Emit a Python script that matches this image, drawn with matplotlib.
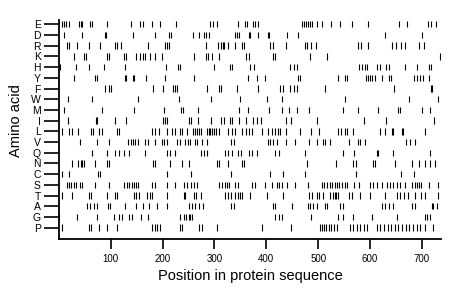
import matplotlib
matplotlib.use('Agg')
import matplotlib.pyplot as plt

plt.rcParams['font.family'] = ['Liberation Sans', 'DejaVu Sans']

# amino acids, top row first
acids = ['E', 'D', 'R', 'K', 'H', 'Y', 'F', 'W', 'M', 'I',
         'L', 'V', 'Q', 'N', 'C', 'S', 'T', 'A', 'G', 'P']

# positions of each residue in the sequence
pos_E = [6, 9, 13, 19, 38, 42, 45, 60, 64, 92, 138, 157, 162, 180, 194, 225, 292, 298, 305,
         346, 358, 363, 375, 379, 383, 469, 473, 477, 481, 485, 489, 498, 508, 525, 543, 566,
         597, 656, 672, 712, 718, 728]
pos_D = [9, 44, 88, 91, 142, 186, 212, 216, 258, 271, 279, 284, 289, 340, 343, 347, 366, 369,
         384, 403, 406, 440, 462, 628, 701]
pos_R = [16, 20, 35, 58, 80, 108, 112, 119, 172, 205, 209, 212, 284, 306, 313, 316, 319, 327,
         339, 353, 356, 408, 412, 437, 475, 479, 487, 496, 577, 583, 596, 643, 651, 659, 668,
         694, 705]
pos_K = [29, 48, 52, 93, 97, 125, 130, 148, 157, 162, 166, 176, 186, 198, 260, 283, 288, 295,
         308, 360, 366, 412, 417, 485, 517, 735]
pos_H = [1, 33, 58, 87, 128, 207, 230, 234, 300, 329, 334, 369, 376, 446, 453, 459, 579, 584,
         590, 594, 613, 620, 631, 636, 667, 690, 713, 717]
pos_Y = [29, 69, 74, 127, 130, 142, 145, 168, 205, 260, 365, 382, 398, 462, 465, 538, 552, 555,
         592, 596, 600, 604, 609, 623, 637, 641, 684, 690, 697, 703, 713]
pos_F = [88, 96, 101, 181, 200, 220, 223, 228, 286, 308, 313, 344, 384, 427, 433, 446, 453, 459,
         514, 647, 718, 720]
pos_W = [18, 64, 153, 232, 294, 350, 401, 430, 552, 675, 732]
pos_M = [10, 83, 144, 202, 236, 239, 268, 347, 365, 405, 430, 444, 459, 483, 547, 577, 616, 654,
         658, 700, 716]
pos_I = [18, 71, 74, 109, 130, 200, 204, 209, 250, 254, 268, 294, 313, 318, 329, 334, 347, 360,
         374, 382, 390, 437, 448, 498, 589, 631, 724]
pos_L = [5, 19, 26, 37, 61, 65, 77, 82, 112, 115, 180, 185, 192, 209, 218, 223, 234, 237, 247,
         258, 263, 266, 270, 273, 286, 289, 292, 295, 299, 303, 308, 327, 334, 340, 353, 360, 366,
         372, 392, 404, 411, 416, 422, 427, 437, 465, 487, 501, 539, 544, 551, 555, 568, 620, 629,
         642, 645, 661, 663, 706]
pos_V = [40, 74, 96, 133, 138, 142, 147, 153, 166, 172, 185, 198, 202, 209, 228, 234, 244, 249,
         252, 263, 266, 276, 286, 331, 337, 404, 408, 412, 421, 437, 456, 482, 498, 509, 514, 523,
         559, 577, 581, 590, 669, 677, 686]
pos_Q = [63, 93, 108, 115, 125, 135, 166, 209, 215, 223, 273, 279, 286, 320, 326, 333, 345, 352,
         366, 372, 382, 417, 424, 475, 547, 570, 613, 616, 645, 716]
pos_N = [26, 37, 42, 45, 48, 69, 93, 97, 181, 185, 215, 237, 250, 305, 309, 327, 353, 356, 478,
         534, 568, 573, 605, 610, 648, 681, 694, 706, 716, 726]
pos_C = [5, 20, 76, 80, 209, 254, 331, 408, 433, 474, 573, 660, 684]
pos_S = [16, 20, 24, 29, 32, 40, 44, 69, 96, 125, 131, 136, 140, 144, 148, 153, 180, 185, 209,
         223, 241, 247, 254, 260, 266, 308, 314, 320, 324, 328, 340, 346, 372, 378, 398, 410, 421,
         425, 430, 440, 455, 480, 507, 512, 517, 522, 527, 532, 536, 541, 546, 551, 555, 570, 578,
         600, 605, 613, 623, 633, 639, 645, 652, 658, 667, 681, 686, 690, 695, 699, 713, 731]
pos_T = [5, 26, 58, 61, 93, 109, 112, 144, 149, 154, 170, 175, 180, 209, 241, 244, 260, 264, 273,
         321, 326, 331, 340, 345, 350, 353, 369, 401, 433, 482, 488, 498, 502, 510, 523, 528, 532,
         534, 538, 559, 565, 581, 600, 629, 652, 658, 665, 674, 687, 699, 706, 732]
pos_A = [54, 60, 67, 74, 95, 98, 127, 148, 162, 174, 189, 209, 250, 257, 263, 271, 277, 331, 337,
         412, 417, 449, 480, 485, 491, 498, 514, 517, 543, 547, 623, 629, 637, 645, 681, 686, 719,
         722, 729]
pos_G = [0, 35, 74, 106, 115, 121, 135, 141, 159, 172, 234, 241, 245, 250, 252, 257, 416, 424,
         430, 487, 539, 547, 568, 604, 652, 706, 710, 716]
pos_P = [5, 58, 61, 77, 93, 112, 180, 185, 189, 194, 234, 237, 270, 275, 305, 392, 448, 504, 508,
         512, 516, 520, 525, 530, 537, 562, 568, 574, 580, 588, 595, 614, 620, 627, 634, 641, 648,
         655, 662, 669, 676, 683, 690, 697, 706, 722]

rows = [pos_E, pos_D, pos_R, pos_K, pos_H, pos_Y, pos_F, pos_W, pos_M, pos_I,
        pos_L, pos_V, pos_Q, pos_N, pos_C, pos_S, pos_T, pos_A, pos_G, pos_P]

seq_len = 737
xticks = [100, 200, 300, 400, 500, 600, 700]

fig = plt.figure(figsize=(4.6, 2.99), dpi=100)
ax = fig.add_axes([59 / 460, 60 / 299, 382 / 460, 219 / 299])

for i, p in enumerate(rows):
    ax.vlines(p, i - 0.3, i + 0.3, color='black', linewidth=0.8)

ax.set_xlim(0, seq_len)
ax.set_ylim(20.06, -0.4)

ax.set_yticks(range(len(acids)))
ax.set_yticklabels(acids, fontsize=7.5)
ax.set_xticks(xticks)
ax.set_xticklabels([str(t) for t in xticks], fontsize=7)

ax.tick_params(axis='y', length=11, width=1.2, pad=2)
ax.tick_params(axis='x', length=7.5, width=1.2, pad=3)

for s in ['top', 'right']:
    ax.spines[s].set_visible(False)
for s in ['left', 'bottom']:
    ax.spines[s].set_linewidth(1.3)

ax.set_xlabel('Position in protein sequence', fontsize=10.5, labelpad=4)
ax.set_ylabel('Amino acid', fontsize=10.5)
ax.yaxis.set_label_coords(-0.095, 0.54)

fig.savefig('out.png', dpi=100)
